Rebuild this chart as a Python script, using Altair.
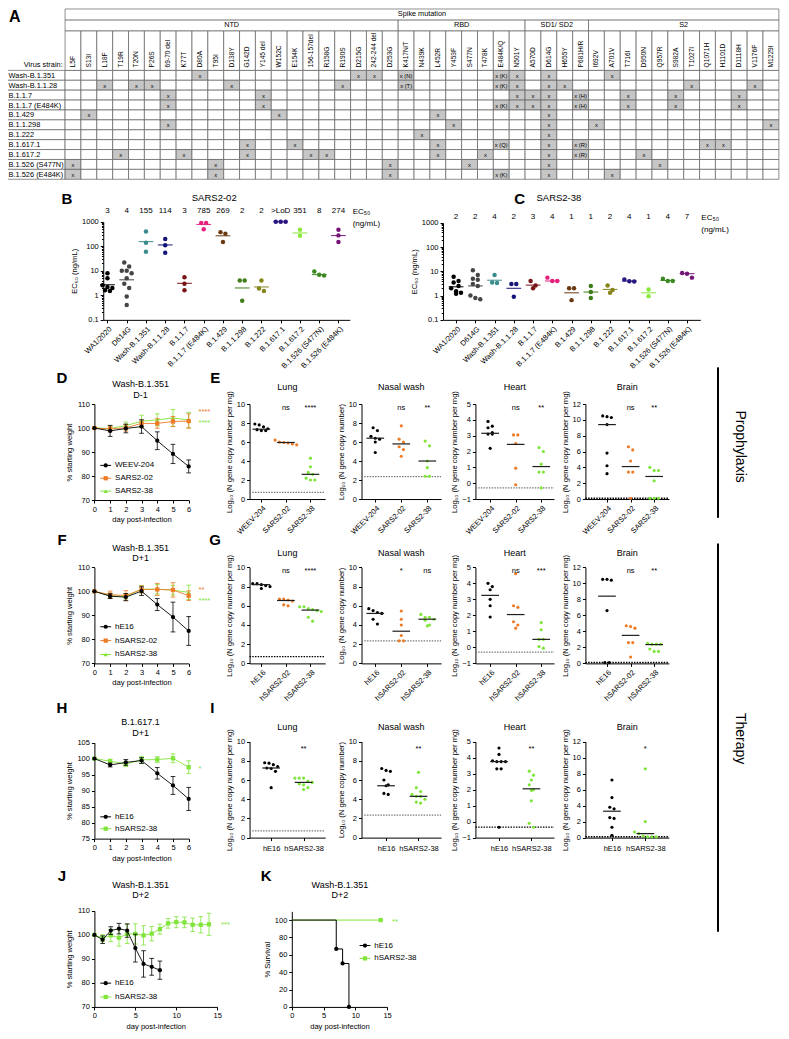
import math
import json
import altair as alt
import pandas as pd

W, H = 773, 1023
FONT = "Liberation Sans"
ORANGE = "#ee7b26"
GREEN = "#80e53a"
GREY = "#7a7a7a"

# ====================== DATA ======================
# ---- Panel A: spike mutation table ----
strains = ["Wash-B.1.351", "Wash-B.1.1.28", "B.1.1.7", "B.1.1.7 (E484K)", "B.1.429",
           "B.1.1.298", "B.1.222", "B.1.617.1", "B.1.617.2", "B.1.526 (S477N)", "B.1.526 (E484K)"]
domain_names = ["NTD", "RBD", "SD1/ SD2", "S2"]
ntd_mutations = ["L5F", "S13I", "L18F", "T19R", "T20N", "P26S", "69-70 del", "K77T", "D80A", "T95I",
                 "D138Y", "G142D", "Y145 del", "W152C", "E154K", "156-157del", "R158G", "R190S",
                 "D215G", "242-244 del", "D253G"]
rbd_mutations = ["K417N/T", "N439K", "L452R", "Y453F", "S477N", "T478K", "E484K/Q", "N501Y"]
sd_mutations = ["A570D", "D614G", "H655Y", "P681H/R"]
s2_mutations = ["I692V", "A701V", "T716I", "D950N", "Q957R", "S982A", "T1027I", "Q1071H",
                "H1101D", "D1118H", "V1176F", "M1229I"]
strain_marks = [
    ["D80A", "D215G", "242-244 del", "K417N/T|x (N)", "E484K/Q|x (K)", "N501Y", "D614G", "A701V"],
    ["L18F", "T20N", "P26S", "D138Y", "R190S", "K417N/T|x (T)", "E484K/Q|x (K)", "N501Y", "D614G",
     "H655Y", "T1027I", "V1176F"],
    ["69-70 del", "Y145 del", "N501Y", "A570D", "D614G", "P681H/R|x (H)", "T716I", "S982A", "D1118H"],
    ["69-70 del", "Y145 del", "E484K/Q|x (K)", "N501Y", "A570D", "D614G", "P681H/R|x (H)", "T716I",
     "S982A", "D1118H"],
    ["S13I", "W152C", "L452R", "D614G"],
    ["69-70 del", "Y453F", "D614G", "I692V", "M1229I"],
    ["N439K", "D614G"],
    ["G142D", "E154K", "L452R", "E484K/Q|x (Q)", "D614G", "P681H/R|x (R)", "Q1071H", "H1101D"],
    ["T19R", "K77T", "G142D", "156-157del", "R158G", "L452R", "T478K", "D614G", "P681H/R|x (R)", "D950N"],
    ["L5F", "T95I", "D253G", "S477N", "D614G", "Q957R"],
    ["L5F", "T95I", "D253G", "E484K/Q|x (K)", "D614G", "A701V"],
]

# ---- Panels B, C: EC50 ----
variants = ["WA1/2020", "D614G", "Wash-B.1.351", "Wash-B.1.1.28", "B.1.1.7", "B.1.1.7 (E484K)",
            "B.1.429", "B.1.1.298", "B.1.222", "B.1.617.1", "B.1.617.2", "B.1.526 (S477N)",
            "B.1.526 (E484K)"]
variant_colors = ["#000000", "#454545", "#3a8c8c", "#16167a", "#7a1518", "#e8207e", "#6b3a12",
                  "#3f7d1b", "#85851a", "#2b1682", "#8ae83a", "#3b8a21", "#761578"]
sars202_ec50 = ["3", "4", "155", "114", "3", "785", "269", "2", "2", ">LoD", "351", "8", "274"]
sars202_points = [[8, 5, 2.6, 2.2, 2.0, 1.6, 1.5], [22, 15, 10, 10, 8, 5, 3, 2, 0.9, 0.4],
                  [400, 140, 60], [200, 110, 55], [5.5, 3.0, 1.6], [900, 900, 500], [380, 330, 150],
                  [4, 4, 0.6], [4, 1.9, 1.5], [1000, 1000, 1000], [480, 270], [9.5, 7, 6.5],
                  [480, 280, 150]]
sars202_lines = [2.7, 4.3, 155, 114, 3.1, 785, 269, 2.0, 2.2, 1000, 351, 7.0, 274]
sars238_ec50 = ["2", "2", "4", "2", "3", "4", "1", "1", "2", "4", "1", "4", "7"]
sars238_points = [[6, 4, 3.5, 2.5, 2, 1.5, 1.3, 1.2], [11, 7, 5, 4.5, 3, 2.5, 1, 0.8, 0.7],
                  [7, 3.5, 3.3], [3, 3, 0.9], [4, 2.6, 2], [5.5, 4, 4], [2, 2, 0.65],
                  [2.5, 1.4, 0.8], [2.6, 1.7, 1.3], [3.8, 4.6, 3.9], [1.8, 0.95], [4, 5, 4],
                  [8.5, 5.5, 8]]
sars238_lines = [2.3, 2.5, 4.3, 2.0, 2.7, 4.0, 1.3, 1.4, 1.8, 4.0, 1.3, 4.2, 8.0]

# ---- Weight curves (mean, SD) ----
days6 = [0, 1, 2, 3, 4, 5, 6]
d_weev_mean = [100, 98.8, 99.8, 100.6, 94.7, 89.2, 84.0]
d_weev_sd = [0, 2.3, 1.8, 2.8, 3.7, 4.0, 2.7]
d_s02_mean = [100, 99.6, 100.1, 101.9, 101.9, 102.7, 102.9]
d_s02_sd = [0, 1.2, 1.4, 1.5, 2.0, 2.1, 3.0]
d_s38_mean = [100, 99.8, 101.0, 102.8, 103.4, 104.2, 103.3]
d_s38_sd = [0, 1.0, 1.5, 2.5, 2.5, 3.5, 3.2]

f_he16_mean = [100, 98.0, 97.6, 100.1, 94.5, 89.3, 83.5]
f_he16_sd = [0, 1.0, 1.5, 1.8, 2.5, 6.2, 6.0]
f_s02_mean = [100, 98.6, 98.3, 100.8, 100.8, 100.6, 98.2]
f_s02_sd = [0, 1.5, 2.0, 1.5, 2.5, 3.0, 2.0]
f_s38_mean = [100, 98.2, 97.9, 100.9, 100.9, 100.5, 99.6]
f_s38_sd = [0, 1.0, 1.0, 1.5, 2.0, 2.0, 3.0]

h_he16_mean = [100, 98.0, 98.8, 99.4, 95.4, 91.6, 87.4]
h_he16_sd = [0, 0.6, 0.9, 0.9, 1.8, 2.8, 3.6]
h_s38_mean = [100, 99.2, 98.3, 99.6, 99.7, 100.1, 97.3]
h_s38_sd = [0, 0.6, 0.8, 1.1, 0.9, 1.4, 2.0]

j_he16_days = [0, 1, 2, 3, 4, 5, 6, 7, 8]
j_he16_mean = [100, 98.0, 101.8, 102.6, 101.8, 94.5, 87.9, 86.7, 85.3]
j_he16_sd = [0, 1.6, 1.6, 2.2, 2.8, 5.8, 5.5, 3.5, 3.8]
j_s38_days = list(range(15))
j_s38_mean = [100, 98.6, 99.8, 98.8, 100.4, 100.4, 99.8, 100.5, 102.4, 104.8, 105.3, 105.2, 104.2,
              104.2, 104.4]
j_s38_sd = [0, 1.5, 2.5, 3.5, 4.0, 4.2, 4.0, 3.0, 2.1, 2.0, 2.3, 2.2, 2.8, 3.4, 4.6]

# ---- Survival (K) ----
k_he16_days = [0, 7, 8, 9]
k_he16_surv = [100, 66.7, 50, 0]
k_s38_days = [0, 14]
k_s38_surv = [100, 100]

# ---- Viral burden (E: prophylaxis, G/I: therapy) ----
e_groups = ["WEEV-204", "SARS2-02", "SARS2-38"]
e_lung = [[7.9, 7.8, 7.6, 7.4, 7.3, 7.2, 7.2], [6.2, 6.0, 5.95, 5.9, 5.8, 5.7], [4.3, 3.4, 2.8, 2.6, 2.2, 2.0, 2.0]]
e_lung_med = [7.35, 5.95, 2.6]
e_nasal = [[7.5, 7.2, 6.6, 6.4, 6.3, 6.0, 4.9], [7.7, 6.3, 6.0, 5.5, 5.2, 4.5], [6.1, 5.6, 4.0, 3.3, 2.4, 2.4]]
e_nasal_med = [6.4, 5.8, 4.0]
e_heart = [[3.9, 3.6, 3.5, 3.2, 3.1, 3.1, 2.2], [3.05, 3.05, 2.5, 0.95, -0.1], [2.25, 2.0, 1.2, 0.7, 0.7, -0.3]]
e_heart_med = [3.15, 2.45, 1.05]
e_brain = [[10.5, 10.4, 10.3, 9.4, 5.8, 4.2, 3.2], [6.6, 6.2, 4.8, 3.4, 3.4, 0.1], [4.0, 3.6, 3.6, 2.3, 0.1, 0.1, 0.1]]
e_brain_med = [9.4, 4.1, 2.85]
e_stars = [["ns", "****"], ["ns", "**"], ["ns", "**"], ["ns", "**"]]

g_groups = ["hE16", "hSARS2-02", "hSARS2-38"]
g_lung = [[8.3, 8.3, 8.2, 8.1, 8.0, 7.8], [6.7, 6.7, 6.6, 6.5, 6.1, 6.0], [5.9, 5.9, 5.7, 5.6, 5.5, 5.4, 4.8, 4.4]]
g_lung_med = [8.2, 6.55, 5.55]
g_nasal = [[5.7, 5.5, 5.3, 5.2, 4.6, 4.1], [5.45, 4.6, 4.0, 2.9, 2.35, 2.35], [5.1, 4.8, 4.8, 4.6, 4.5, 4.0, 3.9]]
g_nasal_med = [5.2, 3.35, 4.6]
g_heart = [[4.0, 3.8, 3.6, 3.0, 2.6, 1.9], [4.6, 2.6, 2.5, 1.6, 1.4, 1.2], [1.55, 1.1, 0.5, 0.5, 0.05, -0.05]]
g_heart_med = [3.25, 2.05, 0.5]
g_brain = [[10.5, 10.4, 10.5, 6.6, 0.1, 0.1], [4.7, 4.6, 4.4, 2.6, 2.6, 0.8], [2.5, 2.4, 2.4, 2.4, 1.8, 1.5, 1.5]]
g_brain_med = [8.4, 3.5, 2.35]
g_stars = [["ns", "****"], ["*", "ns"], ["ns", "***"], ["ns", "**"]]

i_groups = ["hE16", "hSARS2-38"]
i_lung = [[7.8, 7.75, 7.6, 7.4, 7.25, 7.2, 6.9, 5.2], [6.2, 6.2, 6.2, 5.9, 5.75, 5.6, 5.5, 5.2, 5.0]]
i_lung_med = [7.25, 5.75]
i_nasal = [[7.2, 7.0, 6.9, 6.0, 5.5, 5.4, 4.6, 4.5], [6.8, 5.2, 4.8, 4.5, 4.3, 4.3, 4.0, 3.7, 3.6]]
i_nasal_med = [5.4, 4.3]
i_heart = [[4.6, 4.2, 3.8, 3.75, 3.75, 3.75, 3.3, 3.3, -0.35], [3.15, 2.9, 2.6, 2.3, 2.0, 1.95, 1.3, -0.1, -0.35]]
i_heart_med = [3.75, 2.05]
i_brain = [[7.2, 5.0, 3.8, 3.6, 2.5, 2.4, 1.3, 0.3], [8.6, 2.0, 0.7, 0.5, 0.2, 0.1, 0.1, 0.1]]
i_brain_med = [3.3, 0.5]
i_stars = [["**"], ["**"], ["**"], ["*"]]

organ_titles = ["Lung", "Nasal wash", "Heart", "Brain"]
organ_ytitles = ["Log₁₀ (N gene copy number per mg)", "Log₁₀ (N gene copy number)",
                 "Log₁₀ (N gene copy number per mg)", "Log₁₀ (N gene copy number per mg)"]
organ_lod = [0.7, 2.35, -0.3, 0.1]


# ====================== LAYOUT HELPERS ======================
def X(x):
    return round((x - 2) * 0.982, 2)


def Y(y):
    return round((y - 2) * 0.99, 2)


layers = []


def txt(s, x, y, size=8.0, weight="normal", align="center", angle=None, color="black"):
    kw = dict(text=s, fontSize=size, fontWeight=weight, align=align, baseline="middle",
              color=color, font=FONT)
    if angle is not None:
        kw["angle"] = angle
    layers.append(alt.Chart(pd.DataFrame({"t": [s]})).mark_text(**kw)
                  .encode(x=alt.value(X(x)), y=alt.value(Y(y))))


def spread(vals, tol):
    order = sorted(range(len(vals)), key=lambda i: -vals[i])
    groups = []
    for i in order:
        if groups and vals[groups[-1][0]] - vals[i] <= tol:
            groups[-1].append(i)
        else:
            groups.append([i])
    off = [0.0] * len(vals)
    for g in groups:
        k = len(g)
        for r, i in enumerate(g):
            off[i] = r - (k - 1) / 2
    return off


def lin_scale(dom, r0, r1):
    return alt.Scale(domain=dom, range=[r0, r1], nice=False, zero=False)


# ====================== PANEL A ======================
mutations = ntd_mutations + rbd_mutations + sd_mutations + s2_mutations
NM = len(mutations)
LABW = 3.66
tx = lin_scale([-LABW, NM], X(1), X(787))
ty = lin_scale([-6.2, len(strains)], Y(3), Y(175))

cells, xs_txt, hdr = [], [], []
for i, s in enumerate(strains):
    cells.append(dict(x=-LABW, x2=0, y=i, y2=i + 1, f="white"))
    mk = {}
    for m in strain_marks[i]:
        parts = m.split("|")
        mk[parts[0]] = parts[1] if len(parts) > 1 else "x"
    for j, m in enumerate(mutations):
        cells.append(dict(x=j, x2=j + 1, y=i, y2=i + 1, f="#c6c6c6" if m in mk else "white"))
        if m in mk:
            xs_txt.append(dict(x=j + 0.5, y=i + 0.55, t=mk[m]))
for j in range(NM):
    cells.append(dict(x=j, x2=j + 1, y=-4, y2=0, f="white"))
    hdr.append(dict(x=j + 0.5, y=-0.3, t=mutations[j]))
grp_txt = []
start = 0
for name, lst in zip(domain_names, [ntd_mutations, rbd_mutations, sd_mutations, s2_mutations]):
    cells.append(dict(x=start, x2=start + len(lst), y=-5.1, y2=-4, f="white"))
    grp_txt.append(dict(x=start + len(lst) / 2, y=-4.55, t=name))
    start += len(lst)
cells.append(dict(x=0, x2=NM, y=-6.2, y2=-5.1, f="white"))
grp_txt.append(dict(x=NM / 2, y=-5.65, t="Spike mutation"))

layers.append(alt.Chart(pd.DataFrame(cells)).mark_rect(stroke="#5e5e5e", strokeWidth=0.7).encode(
    x=alt.X("x:Q", scale=tx, axis=None), x2="x2:Q",
    y=alt.Y("y:Q", scale=ty, axis=None), y2="y2:Q",
    fill=alt.Fill("f:N", scale=None)))
layers.append(alt.Chart(pd.DataFrame(xs_txt)).mark_text(fontSize=5.8, font=FONT).encode(
    x=alt.X("x:Q", scale=tx, axis=None), y=alt.Y("y:Q", scale=ty, axis=None), text="t:N"))
layers.append(alt.Chart(pd.DataFrame(hdr)).mark_text(fontSize=6.6, font=FONT, angle=270, align="left",
                                                     baseline="middle").encode(
    x=alt.X("x:Q", scale=tx, axis=None), y=alt.Y("y:Q", scale=ty, axis=None), text="t:N"))
layers.append(alt.Chart(pd.DataFrame(grp_txt)).mark_text(fontSize=7.3, font=FONT).encode(
    x=alt.X("x:Q", scale=tx, axis=None), y=alt.Y("y:Q", scale=ty, axis=None), text="t:N"))
layers.append(alt.Chart(pd.DataFrame({"x": [-LABW + 0.1] * len(strains),
                                      "y": [i + 0.55 for i in range(len(strains))], "t": strains}))
              .mark_text(fontSize=7.4, font=FONT, align="left").encode(
    x=alt.X("x:Q", scale=tx, axis=None), y=alt.Y("y:Q", scale=ty, axis=None), text="t:N"))
layers.append(alt.Chart(pd.DataFrame({"x": [-0.15], "y": [-0.5], "t": ["Virus strain:"]}))
              .mark_text(fontSize=7.4, font=FONT, align="right").encode(
    x=alt.X("x:Q", scale=tx, axis=None), y=alt.Y("y:Q", scale=ty, axis=None), text="t:N"))
txt("A", 9, 11, size=16, weight="bold")


# ====================== PANELS B, C ======================
def ec50_panel(xl, xr, c0, yt, yb, pts, lines, labels, lab_y, unit_x, unit_y, title, title_x, title_y):
    step = 19.6
    xs = lin_scale([(xl - c0) / step, (xr - c0) / step], X(xl), X(xr))
    ys = alt.Scale(type="log", domain=[0.1, 1000], range=[Y(yb), Y(yt)], nice=False)
    cs = alt.Scale(domain=variants, range=variant_colors)
    rows = []
    for gi, (v, vals) in enumerate(zip(variants, pts)):
        offs = spread([math.log10(a) for a in vals], 0.2)
        for a, o in zip(vals, offs):
            rows.append(dict(variant=v, pos=gi + o * 5.0 / step, ec50=a))
    names = json.dumps(variants)
    xaxis = alt.Axis(orient="bottom", offset=Y(yb) - H, values=list(range(len(variants))),
                     labelExpr=f"{names}[datum.value]", labelAngle=-45, labelAlign="right",
                     labelBaseline="top", title=None)
    yaxis = alt.Axis(orient="left", offset=-X(xl), values=[0.1, 1, 10, 100, 1000], format="~g",
                     title="EC₅₀ (ng/mL)")
    layers.append(alt.Chart(pd.DataFrame(rows)).mark_circle(size=20, opacity=1).encode(
        x=alt.X("pos:Q", scale=xs, axis=xaxis),
        y=alt.Y("ec50:Q", scale=ys, axis=yaxis),
        color=alt.Color("variant:N", scale=cs, legend=None)))
    med = pd.DataFrame({"variant": variants, "a": [i - 7.5 / step for i in range(len(variants))],
                        "b": [i + 7.5 / step for i in range(len(variants))], "m": lines})
    minor = [k * 10 ** e for e in range(-1, 3) for k in range(2, 10)]
    layers.append(alt.Chart(med).mark_rule(strokeWidth=1).encode(
        x=alt.X("a:Q", scale=xs, axis=None), x2="b:Q",
        y=alt.Y("m:Q", scale=ys, axis=alt.Axis(orient="left", offset=-X(xl), values=minor, labels=False,
                                              domain=False, tickSize=1.8, title=None)),
        color=alt.Color("variant:N", scale=cs, legend=None)))
    lab = pd.DataFrame({"pos": list(range(len(variants))), "t": labels})
    layers.append(alt.Chart(lab).mark_text(fontSize=8, font=FONT).encode(
        x=alt.X("pos:Q", scale=xs, axis=None), y=alt.value(Y(lab_y)), text="t:N"))
    txt("EC₅₀", unit_x, unit_y, size=8, align="left")
    txt("(ng/mL)", unit_x, unit_y + 12, size=8, align="left")
    txt(title, title_x, title_y, size=9.5)


ec50_panel(99, 350, 103.3, 218, 317, sars202_points, sars202_lines, sars202_ec50, 207, 353, 208,
           "SARS2-02", 212, 194)
ec50_panel(445, 707, 458.3, 219, 317, sars238_points, sars238_lines, sars238_ec50, 213, 708, 214,
           "SARS2-38", 563, 194)
txt("B", 62, 195, size=15, weight="bold")
txt("C", 523, 195, size=15, weight="bold")


# ====================== WEIGHT PANELS ======================
def weight_panel(xl, xr, yt, yb, xdom, ydom, xticks, yticks, series, ytitle="% starting weight"):
    xs = lin_scale(xdom, X(xl), X(xr))
    ys = lin_scale(ydom, Y(yb), Y(yt))
    xaxis = alt.Axis(orient="bottom", offset=Y(yb) - H, values=xticks, title="day post-infection", format="d")
    yaxis = alt.Axis(orient="left", offset=-X(xl), values=yticks, title=ytitle, format="d")
    for k, (name, days, mean, sd, color, shape) in enumerate(series):
        df = pd.DataFrame({"day": days, "mean": mean, "lo": [m - s for m, s in zip(mean, sd)],
                           "hi": [m + s for m, s in zip(mean, sd)], "sd": sd})
        layers.append(alt.Chart(df).mark_line(color=color, strokeWidth=0.9).encode(
            x=alt.X("day:Q", scale=xs, axis=xaxis if k == 0 else None),
            y=alt.Y("mean:Q", scale=ys, axis=yaxis if k == 0 else None)))
        dfe = df[df["sd"] > 0]
        layers.append(alt.Chart(dfe).mark_rule(color=color, strokeWidth=0.8).encode(
            x=alt.X("day:Q", scale=xs, axis=None), y=alt.Y("lo:Q", scale=ys, axis=None), y2="hi:Q"))
        caps = pd.DataFrame({"day": list(dfe["day"]) * 2, "v": list(dfe["lo"]) + list(dfe["hi"])})
        layers.append(alt.Chart(caps).mark_point(shape="M-1,0L1,0", size=22, color=color, strokeWidth=0.8,
                                                 opacity=1).encode(
            x=alt.X("day:Q", scale=xs, axis=None), y=alt.Y("v:Q", scale=ys, axis=None)))
        layers.append(alt.Chart(df).mark_point(filled=True, shape=shape, size=18, color=color, opacity=1).encode(
            x=alt.X("day:Q", scale=xs, axis=None), y=alt.Y("mean:Q", scale=ys, axis=None)))


def legend(entries, x):
    for name, color, shape, y in entries:
        df = pd.DataFrame({"n": [name]})
        layers.append(alt.Chart(df).mark_rule(color=color, strokeWidth=1).encode(
            x=alt.value(X(x)), x2=alt.value(X(x + 11)), y=alt.value(Y(y))))
        layers.append(alt.Chart(df).mark_point(filled=True, shape=shape, size=18, color=color, opacity=1).encode(
            x=alt.value(X(x + 5.5)), y=alt.value(Y(y))))
        layers.append(alt.Chart(df).mark_text(align="left", baseline="middle", fontSize=8, font=FONT).encode(
            x=alt.value(X(x + 15)), y=alt.value(Y(y)), text="n:N"))


# D
weight_panel(90, 186, 402, 499, [0, 6], [70, 110], days6, [70, 80, 90, 100, 110], [
    ("SARS2-38", days6, d_s38_mean, d_s38_sd, GREEN, "triangle-up"),
    ("SARS2-02", days6, d_s02_mean, d_s02_sd, ORANGE, "square"),
    ("WEEV-204", days6, d_weev_mean, d_weev_sd, "black", "circle")])
legend([("WEEV-204", "black", "circle", 464), ("SARS2-02", ORANGE, "square", 477),
        ("SARS2-38", GREEN, "triangle-up", 490)], 96)
txt("****", 196, 410, size=7.5, align="left", color=ORANGE)
txt("****", 196, 421, size=7.5, align="left", color=GREEN)
txt("Wash-B.1.351", 137, 382, size=9)
txt("D-1", 137, 393, size=9)
txt("D", 57, 376, size=15, weight="bold")

# F
weight_panel(90, 186, 567, 664, [0, 6], [70, 110], days6, [70, 80, 90, 100, 110], [
    ("hSARS2-38", days6, f_s38_mean, f_s38_sd, GREEN, "triangle-up"),
    ("hSARS2-02", days6, f_s02_mean, f_s02_sd, ORANGE, "square"),
    ("hE16", days6, f_he16_mean, f_he16_sd, "black", "circle")])
legend([("hE16", "black", "circle", 627), ("hSARS2-02", ORANGE, "square", 641),
        ("hSARS2-38", GREEN, "triangle-up", 655)], 96)
txt("**", 196, 590, size=7.5, align="left", color=ORANGE)
txt("****", 196, 601, size=7.5, align="left", color=GREEN)
txt("Wash-B.1.351", 137, 547, size=9)
txt("D+1", 137, 558, size=9)
txt("F", 57, 539, size=15, weight="bold")

# H
weight_panel(90, 186, 744, 841, [0, 6], [75, 105], days6, [75, 80, 85, 90, 95, 100, 105], [
    ("hSARS2-38", days6, h_s38_mean, h_s38_sd, GREEN, "square"),
    ("hE16", days6, h_he16_mean, h_he16_sd, "black", "circle")])
legend([("hE16", "black", "circle", 819), ("hSARS2-38", GREEN, "square", 831)], 96)
txt("*", 196, 771, size=7.5, align="left", color=GREEN)
txt("B.1.617.1", 137, 723, size=9)
txt("D+1", 137, 734, size=9)
txt("H", 57, 709, size=15, weight="bold")

# J
weight_panel(90, 215, 914, 1011, [0, 15], [70, 110], [0, 5, 10, 15], [70, 80, 90, 100, 110], [
    ("hSARS2-38", j_s38_days, j_s38_mean, j_s38_sd, GREEN, "square"),
    ("hE16", j_he16_days, j_he16_mean, j_he16_sd, "black", "circle")])
legend([("hE16", "black", "circle", 987), ("hSARS2-38", GREEN, "square", 1001)], 96)
txt("***", 219, 928, size=7.5, align="left", color=GREEN)
txt("Wash-B.1.351", 137, 888, size=9)
txt("D+2", 137, 898, size=9)
txt("J", 57, 879, size=15, weight="bold")

# K survival
kxs = lin_scale([0, 15], X(291), X(388))
kys = lin_scale([0, 110], Y(1011), Y(914.5))
k_series = [("hSARS2-38", k_s38_days, k_s38_surv, GREEN, "square", [False, True]),
            ("hE16", k_he16_days, k_he16_surv, "black", "circle", [False, True, True, True])]
for k, (name, dd, ss, color, shape, mark) in enumerate(k_series):
    df = pd.DataFrame({"day": dd, "surv": ss, "m": mark})
    layers.append(alt.Chart(df).mark_line(color=color, strokeWidth=1, interpolate="step-after").encode(
        x=alt.X("day:Q", scale=kxs, axis=alt.Axis(orient="bottom", offset=Y(1011) - H, values=[0, 5, 10, 15],
                                                  title="day post-infection") if k == 0 else None),
        y=alt.Y("surv:Q", scale=kys, axis=alt.Axis(orient="left", offset=-X(291),
                                                  values=[0, 20, 40, 60, 80, 100],
                                                  title="% Survival") if k == 0 else None)))
    layers.append(alt.Chart(df[df["m"]]).mark_point(filled=True, shape=shape, size=18, color=color,
                                                    opacity=1).encode(
        x=alt.X("day:Q", scale=kxs, axis=None), y=alt.Y("surv:Q", scale=kys, axis=None)))
legend([("hE16", "black", "circle", 949), ("hSARS2-38", GREEN, "square", 962)], 360)
txt("**", 393, 925, size=7.5, align="left", color=GREEN)
txt("Wash-B.1.351", 340, 888, size=9)
txt("D+2", 340, 898, size=9)
txt("K", 265, 879, size=15, weight="bold")


# ====================== ORGAN PANELS ======================
organ_cols = [
    (248, 325, [260, 285, 310], [270, 303], [0, 10], [0, 2, 4, 6, 8, 10]),
    (362, 443, [376, 403, 429], [387, 420], [0, 10], [0, 2, 4, 6, 8, 10]),
    (478, 558, [493, 519, 545], [502, 535], [-1, 5], [-1, 0, 1, 2, 3, 4, 5]),
    (590, 675, [612, 637, 660], [617, 651], [0, 12], [0, 2, 4, 6, 8, 10, 12]),
]


def organ_row(yt, yb, title_y, star_y, groups, colors, data, meds, stars, lod_colors, rotate):
    for c, (xl, xr, c3, c2, ydom, yticks) in enumerate(organ_cols):
        n = len(groups)
        cats = c3 if n == 3 else c2
        step = (cats[-1] - cats[0]) / (n - 1)
        c0 = cats[0]
        xlo, xhi = (xl - c0) / step, (xr - c0) / step
        xs = lin_scale([xlo, xhi], X(xl), X(xr))
        ys = lin_scale(ydom, Y(yb), Y(yt))
        rng = ydom[1] - ydom[0]
        rows = []
        for gi, (g, vals) in enumerate(zip(groups, data[c])):
            offs = spread(vals, 0.05 * rng)
            for v, o in zip(vals, offs):
                rows.append(dict(group=g, pos=gi + o * 4.4 / step, value=v))
        names = json.dumps(groups)
        if rotate:
            xaxis = alt.Axis(orient="bottom", offset=Y(yb) - H, values=list(range(n)),
                             labelExpr=f"{names}[datum.value]", labelAngle=-45, labelAlign="right",
                             labelBaseline="top", title=None)
        else:
            xaxis = alt.Axis(orient="bottom", offset=Y(yb) - H, values=list(range(n)),
                             labelExpr=f"{names}[datum.value]", labelAngle=0, labelAlign="center",
                             labelBaseline="top", title=None, labelPadding=4)
        yaxis = alt.Axis(orient="left", offset=-X(xl), values=yticks, title=organ_ytitles[c], format="d")
        lod_df = pd.DataFrame({"a": [xlo], "b": [xhi], "lod": [organ_lod[c] if not (c == 2 and n == 2) else -0.35]})
        layers.append(alt.Chart(lod_df).mark_rule(strokeDash=[1.5, 1.2], color=lod_colors[c],
                                                  strokeWidth=1.5 if c == 3 else 1.2).encode(
            x=alt.X("a:Q", scale=xs, axis=None), x2="b:Q", y=alt.Y("lod:Q", scale=ys, axis=None)))
        layers.append(alt.Chart(pd.DataFrame(rows)).mark_circle(size=10, opacity=1).encode(
            x=alt.X("pos:Q", scale=xs, axis=xaxis),
            y=alt.Y("value:Q", scale=ys, axis=yaxis),
            color=alt.Color("group:N", scale=alt.Scale(domain=groups, range=colors), legend=None)))
        hw = 9 / step
        md = pd.DataFrame({"a": [i - hw for i in range(n)], "b": [i + hw for i in range(n)], "m": meds[c]})
        layers.append(alt.Chart(md).mark_rule(strokeWidth=1.2, color="#1e1e1e").encode(
            x=alt.X("a:Q", scale=xs, axis=None), x2="b:Q", y=alt.Y("m:Q", scale=ys, axis=None)))
        st = pd.DataFrame({"pos": list(range(n - len(stars[c]), n)), "s": stars[c]})
        layers.append(alt.Chart(st).mark_text(fontSize=7.5, font=FONT).encode(
            x=alt.X("pos:Q", scale=xs, axis=None), y=alt.value(Y(star_y)), text="s:N"))
        txt(organ_titles[c], (xl + xr) / 2, title_y, size=9)


organ_row(402, 498, 385, 406, e_groups, ["black", ORANGE, GREEN],
          [e_lung, e_nasal, e_heart, e_brain], [e_lung_med, e_nasal_med, e_heart_med, e_brain_med],
          e_stars, [GREY, GREY, GREY, "black"], True)
organ_row(567, 664, 553, 571, g_groups, ["black", ORANGE, GREEN],
          [g_lung, g_nasal, g_heart, g_brain], [g_lung_med, g_nasal_med, g_heart_med, g_brain_med],
          g_stars, ["black", GREY, GREY, "black"], True)
organ_row(743, 840, 728, 750, i_groups, ["black", GREEN],
          [i_lung, i_nasal, i_heart, i_brain], [i_lung_med, i_nasal_med, i_heart_med, i_brain_med],
          i_stars, [GREY, GREY, "black", "black"], False)
txt("E", 213, 376, size=15, weight="bold")
txt("G", 213, 539, size=15, weight="bold")
txt("I", 210, 709, size=15, weight="bold")

# ====================== SIDE LABELS ======================
bar = pd.DataFrame({"k": ["Prophylaxis", "Therapy"]})
layers.append(alt.Chart(bar.iloc[[0]]).mark_rule(strokeWidth=2, color="black").encode(
    x=alt.value(X(725)), y=alt.value(Y(365)), y2=alt.value(Y(517))))
layers.append(alt.Chart(bar.iloc[[1]]).mark_rule(strokeWidth=2, color="black").encode(
    x=alt.value(X(725)), y=alt.value(Y(543)), y2=alt.value(Y(935))))
txt("Prophylaxis", 747, 445, size=14, angle=90)
txt("Therapy", 747, 740, size=14, angle=90)

chart = alt.layer(*layers).resolve_scale(
    x="independent", y="independent", color="independent"
).resolve_axis(x="independent", y="independent").properties(
    width=W, height=H, padding=0, autosize=alt.AutoSizeParams(type="none")
).configure_view(stroke=None).configure_axis(
    grid=False, domainColor="black", tickColor="black", labelColor="black", titleColor="black",
    labelFont=FONT, titleFont=FONT, labelFontSize=7.5, titleFontSize=7.6, titleFontWeight="normal",
    tickSize=3, domainWidth=1, tickWidth=1, labelPadding=2, titlePadding=3, labelFlush=False,
    labelOverlap=False
)

chart.save("out.html", embed_options={"renderer": "svg", "actions": False})
